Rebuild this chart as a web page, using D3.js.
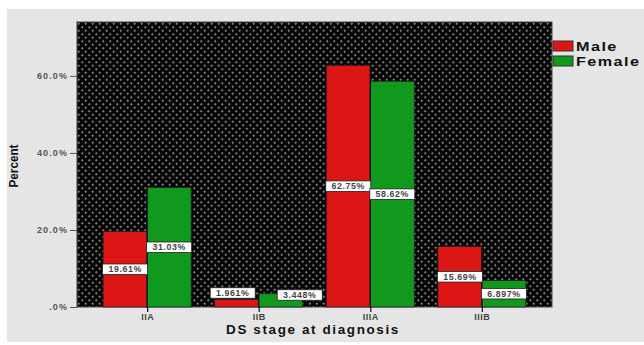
<!DOCTYPE html>
<html>
<head>
<meta charset="utf-8">
<script src="https://cdn.jsdelivr.net/npm/d3@7"></script>
<style>
  html, body { margin: 0; padding: 0; background: #ffffff; }
  svg { display: block; }
  text { font-family: "Liberation Sans", Arial, sans-serif; }
</style>
</head>
<body>
<svg id="chart" width="644" height="345"></svg>
<script>
// DS stage at diagnosis, percent of patients by sex
const stages = ["IIA", "IIB", "IIIA", "IIIB"];
const seriesNames = ["Male", "Female"];
const maleValues = [19.61, 1.961, 62.75, 15.69];
const femaleValues = [31.03, 3.448, 58.62, 6.897];
const valueLabels = [
  ["19.61%", "1.961%", "62.75%", "15.69%"],
  ["31.03%", "3.448%", "58.62%", "6.897%"]
];
const yTicks = [0, 20, 40, 60];
const yTickLabels = [".0%", "20.0%", "40.0%", "60.0%"];
const colors = ["#dc1515", "#10991d"];

const svg = d3.select("#chart");

// panel background
svg.append("rect").attr("x", 7).attr("y", 9).attr("width", 637).attr("height", 333)
  .attr("fill", "#e5e5e5");

const plot = { left: 77, right: 552, top: 22, bottom: 307 };

// dotted black fill of the data area
const defs = svg.append("defs");
const pat = defs.append("pattern").attr("id", "dots")
  .attr("patternUnits", "userSpaceOnUse")
  .attr("x", plot.left).attr("y", plot.top)
  .attr("width", 7).attr("height", 7);
pat.append("rect").attr("width", 7).attr("height", 7).attr("fill", "#060606");
[[1.75, 1.75], [5.25, 5.25]].forEach(([cx, cy]) => {
  pat.append("rect").attr("x", cx - 1.3).attr("y", cy - 0.4).attr("width", 2.6).attr("height", 0.8).attr("fill", "#6e6e6e");
  pat.append("rect").attr("x", cx - 0.4).attr("y", cy - 1.3).attr("width", 0.8).attr("height", 2.6).attr("fill", "#6e6e6e");
  pat.append("circle").attr("cx", cx).attr("cy", cy).attr("r", 0.7).attr("fill", "#8a8a8a");
});

const x = d3.scaleBand().domain(stages)
  .range([plot.left, plot.right])
  .paddingInner(0.211).paddingOuter(0.234);
const xs = d3.scaleBand().domain(seriesNames).range([0, x.bandwidth()]).padding(0);
const y = d3.scaleLinear().domain([0, 74]).range([plot.bottom, plot.top]);

svg.append("rect")
  .attr("x", plot.left).attr("y", plot.top)
  .attr("width", plot.right - plot.left).attr("height", plot.bottom - plot.top)
  .attr("fill", "url(#dots)").attr("stroke", "#444").attr("stroke-width", 1);

// bars
const data = [maleValues, femaleValues];
const rows = [];
seriesNames.forEach((s, si) => {
  stages.forEach((st, ci) => rows.push({ s, si, st, ci, v: data[si][ci], label: valueLabels[si][ci] }));
});

svg.append("g").selectAll("rect").data(rows).join("rect")
  .attr("x", d => x(d.st) + xs(d.s))
  .attr("y", d => y(d.v))
  .attr("width", xs.bandwidth())
  .attr("height", d => y(0) - y(d.v))
  .attr("fill", d => colors[d.si])
  .attr("stroke", "#222").attr("stroke-width", 0.8);

// y axis
const yAxis = d3.axisLeft(y).tickValues(yTicks)
  .tickFormat((d, i) => yTickLabels[i]).tickSize(7).tickPadding(2);
const gy = svg.append("g").attr("transform", `translate(${plot.left},0)`).call(yAxis);
gy.select(".domain").remove();
gy.selectAll(".tick line").attr("stroke", "#555");
gy.selectAll(".tick text").attr("fill", "#555").attr("font-size", 9)
  .attr("font-weight", "bold").attr("letter-spacing", 1.1);

// x axis: category ticks run down from the divide between the paired bars
const xAxis = d3.axisBottom(d3.scalePoint().domain(stages)
    .range([x(stages[0]) + x.bandwidth() / 2, x(stages[3]) + x.bandwidth() / 2]))
  .tickSize(5).tickPadding(2);
const gx = svg.append("g").attr("transform", `translate(0,${plot.bottom})`).call(xAxis);
gx.select(".domain").remove();
gx.selectAll(".tick line").attr("stroke", "#111").attr("stroke-width", 1.2);
gx.selectAll(".tick text").attr("fill", "#444").attr("font-size", 9)
  .attr("font-weight", "bold").attr("letter-spacing", 0.5);

// divider line between the paired bars
svg.append("g").selectAll("line").data(stages).join("line")
  .attr("x1", d => x(d) + x.bandwidth() / 2).attr("x2", d => x(d) + x.bandwidth() / 2)
  .attr("y1", (d, i) => y(Math.max(maleValues[i], femaleValues[i])))
  .attr("y2", plot.bottom)
  .attr("stroke", "#111").attr("stroke-width", 1.2);

// value labels in white boxes at mid-bar; short bars get lifted and nudged aside
const boxH = 10.5;
const lab = svg.append("g").selectAll("g").data(rows).join("g")
  .attr("transform", d => {
    const bx = x(d.st) + xs(d.s);
    const bw = xs.bandwidth();
    const mid = (y(d.v) + y(0)) / 2;
    const short = (y(0) - y(d.v)) < boxH + 4;
    const cy = short ? Math.min(mid, y(0) - (d.si === 0 ? 14 : 12)) : mid;
    const cx = bx + bw / 2 + (short ? (d.si === 0 ? -4 : 19) : 0);
    return `translate(${cx},${cy})`;
  });
lab.append("rect").attr("x", -22.5).attr("y", -boxH / 2).attr("width", 45).attr("height", boxH)
  .attr("fill", "#ffffff").attr("stroke", "#222").attr("stroke-width", 0.8);
lab.append("text").attr("text-anchor", "middle").attr("dy", "0.35em")
  .attr("font-size", 8.8).attr("font-weight", "bold").attr("fill", "#444")
  .attr("letter-spacing", 0.6)
  .text(d => d.label);

// axis titles
svg.append("text").attr("x", 313).attr("y", 334).attr("text-anchor", "middle")
  .attr("font-size", 13.5).attr("font-weight", "bold").attr("fill", "#111")
  .attr("letter-spacing", 1.6).text("DS stage at diagnosis");
svg.append("text").attr("transform", "translate(18,166) rotate(-90) scale(0.9,1)")
  .attr("text-anchor", "middle").attr("font-size", 13).attr("font-weight", "bold")
  .attr("fill", "#111").text("Percent");

// legend (wide bold lettering; the long entry runs off the right edge)
const lg = svg.append("g").selectAll("g").data(seriesNames).join("g")
  .attr("transform", (d, i) => `translate(553,${41 + i * 15})`);
lg.append("rect").attr("width", 20).attr("height", 10)
  .attr("fill", (d, i) => colors[i]).attr("stroke", "#333").attr("stroke-width", 1);
lg.append("text").attr("transform", "translate(23,10) scale(1.2,1)")
  .attr("font-size", 13.5)
  .attr("font-weight", "bold").attr("fill", "#111").attr("letter-spacing", 1.2)
  .text(d => d);
</script>
</body>
</html>
